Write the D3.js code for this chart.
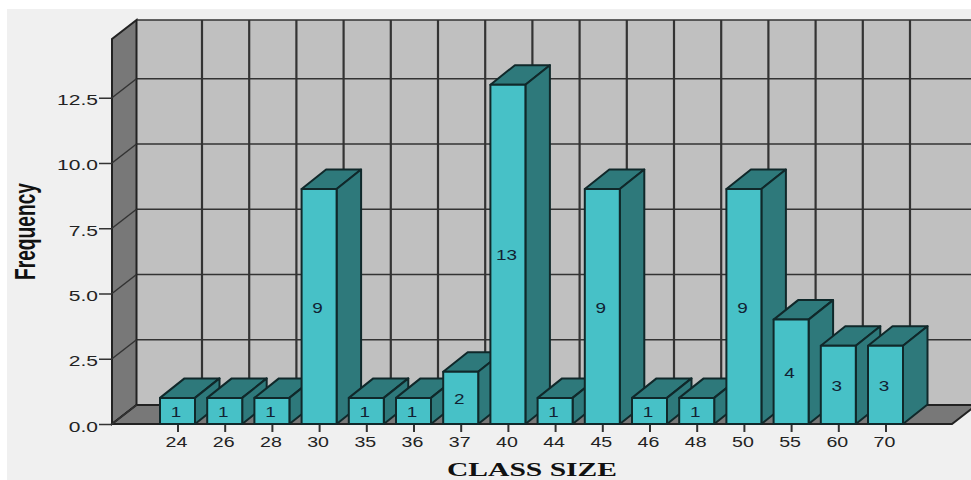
<!DOCTYPE html>
<meta charset="utf-8">
<style>
    html, body { margin: 0; background: #fff; }
    svg { display: block; }
    text { fill: #222; font-family: "Liberation Sans", sans-serif; }
</style>
<svg width="971" height="480"></svg>
<script src="https://d3js.org/d3.v7.min.js"></script>
<script>

    var classSizes = ["24", "26", "28", "30", "35", "36", "37", "40", "44", "45", "46", "48", "50", "55", "60", "70"];
    var frequencies = [1, 1, 1, 9, 1, 1, 2, 13, 1, 9, 1, 1, 9, 4, 3, 3];
    var freqTicks = [0, 2.5, 5, 7.5, 10, 12.5];
    var freqMax = 14.75;

    var svg = d3.select("svg");

    // depth of the 3d box and of each bar
    var depth = { x: 24.5, y: -19 };
    var barDepth = { x: 24.5, y: -19.5 };
    var barWidth = 35;

    var y = d3.scaleLinear().domain([0, freqMax]).range([424, 39]);
    var x = d3.scalePoint().domain(classSizes).range([177.5, 885.5]);

    var left = 112, right = 952;

    function poly(pts) { return d3.line()(pts); }

    // panel behind the chart
    svg.append("rect").attr("x", 7).attr("y", 9).attr("width", 964).attr("height", 471).attr("fill", "#f0f0f0");

    // back wall
    svg.append("rect")
        .attr("x", left + depth.x).attr("y", y(freqMax) + depth.y)
        .attr("width", right - left).attr("height", y(0) - y(freqMax))
        .attr("fill", "#c0c0c0");

    var grid = svg.append("g").attr("stroke", "#333").attr("fill", "none");

    grid.selectAll(".vgrid").data(classSizes).enter().append("line")
        .attr("class", "vgrid")
        .attr("x1", function (d) { return x(d) + depth.x; })
        .attr("x2", function (d) { return x(d) + depth.x; })
        .attr("y1", y(freqMax) + depth.y)
        .attr("y2", y(0) + depth.y)
        .attr("stroke-width", 2.2);

    grid.selectAll(".hgrid").data(freqTicks.concat([freqMax])).enter().append("line")
        .attr("class", "hgrid")
        .attr("x1", left + depth.x)
        .attr("x2", right + depth.x)
        .attr("y1", function (d) { return y(d) + depth.y; })
        .attr("y2", function (d) { return y(d) + depth.y; })
        .attr("stroke-width", 1.7);

    // left wall and floor
    svg.append("path")
        .attr("d", poly([[left, y(0)], [left, y(freqMax)], [left + depth.x, y(freqMax) + depth.y], [left + depth.x, y(0) + depth.y]]) + "Z")
        .attr("fill", "#787878").attr("stroke", "#222").attr("stroke-width", 2);

    svg.append("path")
        .attr("d", poly([[left, y(0)], [left + depth.x, y(0) + depth.y], [right + depth.x, y(0) + depth.y], [right, y(0)]]) + "Z")
        .attr("fill", "#787878").attr("stroke", "#222").attr("stroke-width", 2);

    // ledges running across the left wall
    svg.append("g").attr("stroke", "#333").selectAll(".wall").data(freqTicks).enter().append("line")
        .attr("class", "wall")
        .attr("x1", left)
        .attr("x2", left + depth.x)
        .attr("y1", function (d) { return y(d); })
        .attr("y2", function (d) { return y(d) + depth.y; })
        .attr("stroke-width", 1.5);

    // axes
    var yAxis = svg.append("g")
        .attr("transform", "translate(" + left + ",0)")
        .call(d3.axisLeft(y).tickValues(freqTicks).tickFormat(d3.format(".1f")).tickSize(13).tickPadding(0));
    yAxis.select(".domain").remove();
    yAxis.selectAll("line").attr("stroke", "#333").attr("stroke-width", 1.5);
    yAxis.selectAll("text").remove();
    yAxis.selectAll(".tick").append("text")
        .attr("transform", "translate(-14,7) scale(1.45,1)")
        .attr("text-anchor", "end")
        .attr("font-size", 14.5)
        .text(d3.format(".1f"));

    var xAxis = svg.append("g")
        .attr("transform", "translate(0," + y(0) + ")")
        .call(d3.axisBottom(x).tickSize(8).tickPadding(0));
    xAxis.select(".domain").remove();
    xAxis.selectAll("line").attr("stroke", "#333").attr("stroke-width", 2);
    xAxis.selectAll("text").remove();
    xAxis.selectAll(".tick").append("text")
        .attr("transform", "translate(-1.5,23) scale(1.4,1)")
        .attr("text-anchor", "middle")
        .attr("font-size", 14)
        .text(function (d) { return d; });

    // bars, drawn left to right so each one overlaps its neighbour's side
    var bars = svg.append("g").selectAll("g")
        .data(classSizes.map(function (c, i) { return { size: c, freq: frequencies[i] }; }))
        .enter().append("g")
        .attr("stroke", "#10282a").attr("stroke-width", 2).attr("stroke-linejoin", "round");

    bars.append("path")
        .attr("d", function (d) {
            var x0 = x(d.size) - barWidth / 2, x1 = x0 + barWidth, t = y(d.freq);
            return poly([[x0, t], [x0 + barDepth.x, t + barDepth.y], [x1 + barDepth.x, t + barDepth.y], [x1, t]]) + "Z";
        })
        .attr("fill", "#2e797b");

    bars.append("path")
        .attr("d", function (d) {
            var x1 = x(d.size) + barWidth / 2, t = y(d.freq);
            return poly([[x1, t], [x1 + barDepth.x, t + barDepth.y], [x1 + barDepth.x, y(0) + barDepth.y], [x1, y(0)]]) + "Z";
        })
        .attr("fill", "#2e797b");

    bars.append("rect")
        .attr("x", function (d) { return x(d.size) - barWidth / 2; })
        .attr("y", function (d) { return y(d.freq); })
        .attr("width", barWidth)
        .attr("height", function (d) { return y(0) - y(d.freq); })
        .attr("fill", "#47c1c7");

    bars.append("text")
        .attr("transform", function (d) {
            return "translate(" + (x(d.size) - 1.5) + "," + ((y(d.freq) + y(0)) / 2 + 6) + ") scale(1.35,1)";
        })
        .attr("text-anchor", "middle")
        .attr("font-size", 14)
        .attr("stroke", "none")
        .style("fill", "#123")
        .text(function (d) { return d.freq; });

    // axis titles
    svg.append("text")
        .attr("transform", "translate(35,280) rotate(-90) scale(1,1.9)")
        .attr("font-size", 16)
        .attr("font-weight", "bold")
        .attr("textLength", 97)
        .attr("lengthAdjust", "spacingAndGlyphs")
        .style("fill", "#111")
        .text("Frequency");

    svg.append("text")
        .attr("x", 447)
        .attr("y", 475.5)
        .attr("font-size", 19)
        .attr("font-weight", "bold")
        .attr("textLength", 170)
        .attr("lengthAdjust", "spacingAndGlyphs")
        .style("font-family", "'Liberation Serif', serif")
        .style("fill", "#111")
        .text("CLASS SIZE");

</script>
